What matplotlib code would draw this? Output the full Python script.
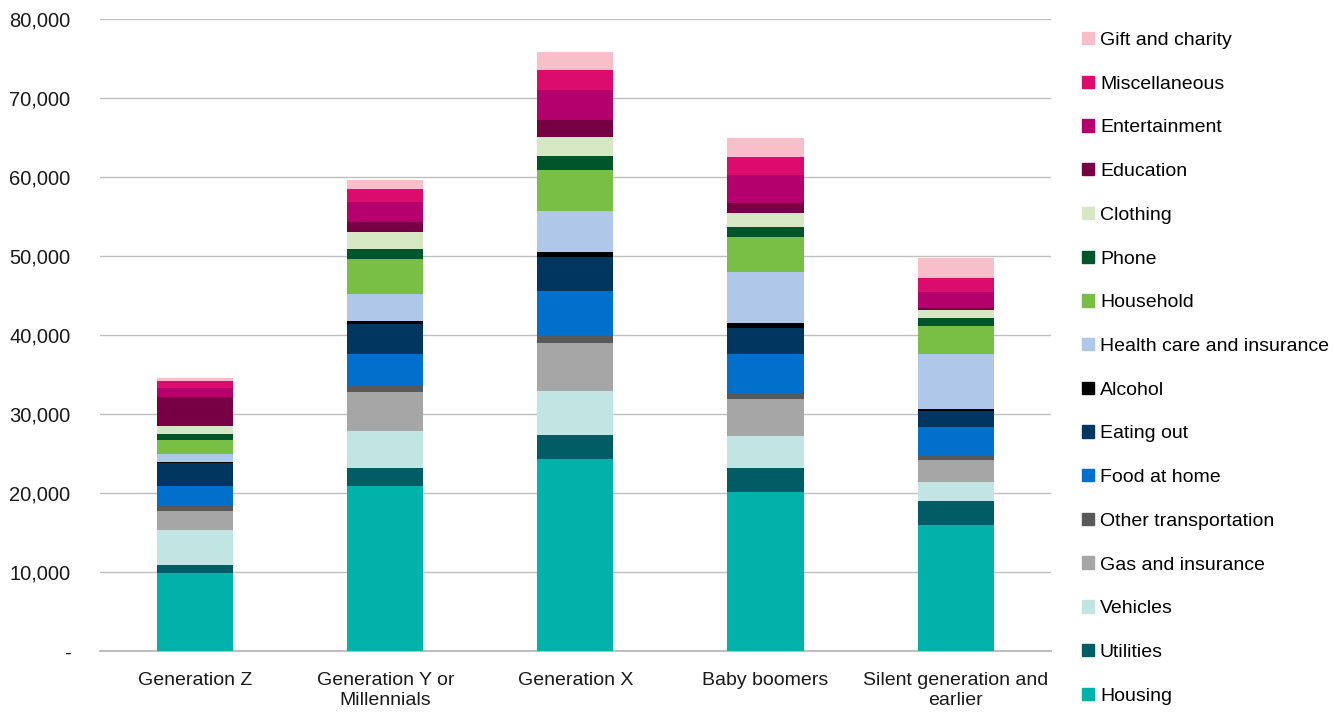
import numpy as np
import matplotlib
matplotlib.use("Agg")
import matplotlib.pyplot as plt
from matplotlib.patches import Patch
from matplotlib.ticker import FuncFormatter

plt.rcParams['font.family'] = ['Liberation Sans', 'DejaVu Sans']

generations = ['Generation Z', 'Generation Y or\nMillennials', 'Generation X',
               'Baby boomers', 'Silent generation and\nearlier']

# spending categories, bottom to top
categories = ['Housing', 'Utilities', 'Vehicles', 'Gas and insurance',
              'Other transportation', 'Food at home', 'Eating out', 'Alcohol',
              'Health care and insurance', 'Household', 'Phone', 'Clothing',
              'Education', 'Entertainment', 'Miscellaneous', 'Gift and charity']

housing = [9900, 20900, 24300, 20100, 16000]
utilities = [1000, 2240, 3050, 3100, 3000]
vehicles = [4400, 4700, 5590, 4070, 2400]
gas_insurance = [2450, 5000, 6050, 4660, 2840]
other_transport = [600, 680, 850, 800, 420]
food_home = [2570, 4150, 5710, 4870, 3640]
eating_out = [2830, 3690, 4360, 3300, 2030]
alcohol = [170, 420, 630, 680, 340]
health = [1050, 3470, 5160, 6360, 6990]
household = [1690, 4450, 5160, 4490, 3520]
phone = [800, 1230, 1780, 1310, 930]
clothing = [1050, 2120, 2450, 1780, 1020]
education = [3630, 1230, 2160, 1230, 250]
entertainment = [1220, 2540, 3810, 3470, 2080]
misc = [840, 1740, 2540, 2330, 1740]
gift = [340, 1100, 2240, 2460, 2540]

series = [housing, utilities, vehicles, gas_insurance, other_transport, food_home,
          eating_out, alcohol, health, household, phone, clothing, education,
          entertainment, misc, gift]

colors = ['#00B2A9', '#005D66', '#C0E5E2', '#A6A6A6', '#595959', '#0070CC',
          '#00365F', '#000000', '#AFC8E9', '#7ABF45', '#00552B', '#D5E8C3',
          '#770045', '#B4006C', '#DC0C6F', '#F8BFCB']

fig = plt.figure(figsize=(13.35, 7.13), dpi=100)
ax = fig.add_axes([0.075, 0.087, 0.712, 0.886])

x = np.arange(len(generations))
bottom = np.zeros(len(generations))
for vals, col in zip(series, colors):
    ax.bar(x, vals, 0.4, bottom=bottom, color=col, zorder=3)
    bottom += np.array(vals)

ax.set_xlim(-0.5, 4.5)
ax.set_ylim(0, 80000)
ax.set_yticks(np.arange(0, 80001, 10000))
ax.yaxis.set_major_formatter(FuncFormatter(lambda v, p: '-' if v == 0 else f'{v:,.0f}'))
ax.set_xticks(x)
ax.set_xticklabels(generations)

for s in ['top', 'right', 'left']:
    ax.spines[s].set_visible(False)
ax.spines['bottom'].set_color('#BFBFBF')
ax.spines['bottom'].set_linewidth(1.5)
ax.tick_params(left=False, bottom=False, labelsize=14, colors='#1a1a1a')
ax.tick_params(axis='y', labelsize=14.5, pad=18)
ax.tick_params(axis='x', pad=12)
ax.yaxis.grid(True, color='#BFBFBF', linewidth=1)
ax.set_axisbelow(True)

handles = [Patch(color=c, label=l) for c, l in zip(colors, categories)][::-1]
fig.legend(handles=handles, loc='upper left', bbox_to_anchor=(0.805, 0.966),
           frameon=False, fontsize=14, handlelength=0.6, handleheight=0.6,
           handletextpad=0.3, labelspacing=1.372, borderaxespad=0)

fig.savefig('out.png', dpi=100)
